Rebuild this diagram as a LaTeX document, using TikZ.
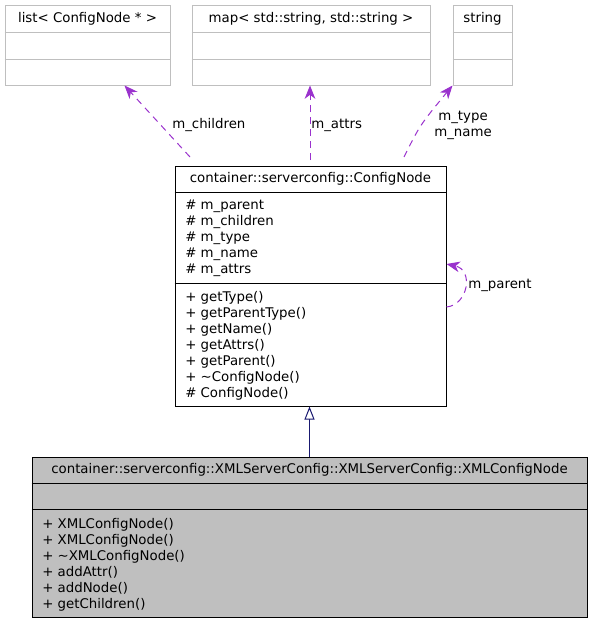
\documentclass[tikz,border=0pt]{standalone}
\usepackage{fontspec}
\setmainfont{DejaVu Sans}
\usetikzlibrary{arrows.meta,positioning,calc}
\definecolor{edgepurple}{HTML}{9A32CD}
\definecolor{edgenavy}{HTML}{191970}
\definecolor{boxgray}{HTML}{BFBFBF}

\begin{document}
\begin{tikzpicture}[x=0.75pt,y=-0.75pt]

  \tikzstyle{ext} = [draw=boxgray, rectangle, inner sep=0pt, line width=0.75pt, minimum height=60pt]
  \tikzstyle{cls} = [draw=black, rectangle, inner sep=0pt, line width=0.75pt]
  \tikzstyle{title} = [font=\fontsize{10}{12}\selectfont, inner sep=0pt]
  \tikzstyle{members} = [font=\fontsize{10}{12}\selectfont, align=left, anchor=north west, inner sep=0pt]
  \tikzstyle{use} = [edgepurple, line width=0.75pt, dash pattern=on 5pt off 4pt, -{Stealth[length=10pt,width=8pt,inset=3pt]}]
  \tikzstyle{usetext} = [font=\fontsize{10}{12}\selectfont, inner sep=0pt]
  \tikzstyle{inherit} = [edgenavy, line width=0.75pt, -{Triangle[open,length=9.75pt,width=7.5pt,fill=white]}]

  \useasboundingbox (0,0) rectangle (591,621);

  % used types, top row
  \node[ext, minimum width=123.75pt] (list) at (87.5,45) {};
  \node[ext, minimum width=178.5pt] (map) at (311,45) {};
  \node[ext, minimum width=44.25pt] (str) at (482.5,45) {};
  \node[title] (listname) at (list.north |- 0,19) {list< ConfigNode * >};
  \node[title] (mapname) at (map.north |- 0,19) {map< std::string, std::string >};
  \node[title] (strname) at (str.north |- 0,19) {string};
  \draw[boxgray, line width=0.75pt] (list.west |- 0,32) -- (list.east |- 0,32) (list.west |- 0,59) -- (list.east |- 0,59);
  \draw[boxgray, line width=0.75pt] (map.west |- 0,32) -- (map.east |- 0,32) (map.west |- 0,59) -- (map.east |- 0,59);
  \draw[boxgray, line width=0.75pt] (str.west |- 0,32) -- (str.east |- 0,32) (str.west |- 0,59) -- (str.east |- 0,59);

  % base class
  \node[cls, minimum width=203.25pt, minimum height=180pt] (cfg) at (310.5,286) {};
  \node[title] (cfgname) at (cfg.north |- 0,179) {container::serverconfig::ConfigNode};
  \draw[line width=0.75pt] (cfg.west |- 0,192) -- (cfg.east |- 0,192) (cfg.west |- 0,283) -- (cfg.east |- 0,283);
  \node[members] (cfgattr) at (185,199.5) {\# m\_parent\\\# m\_children\\\# m\_type\\\# m\_name\\\# m\_attrs};
  \node[members] (cfgops) at (185,291) {+ getType()\\+ getParentType()\\+ getName()\\+ getAttrs()\\+ getParent()\\+ \textasciitilde ConfigNode()\\\# ConfigNode()};

  % derived class
  \node[cls, fill=boxgray, minimum width=416.25pt, minimum height=120pt] (xml) at (309.5,537) {};
  \node[title] (xmlname) at (xml.north |- 0,470) {container::serverconfig::XMLServerConfig::XMLServerConfig::XMLConfigNode};
  \draw[line width=0.75pt] (xml.west |- 0,483) -- (xml.east |- 0,483) (xml.west |- 0,509) -- (xml.east |- 0,509);
  \node[members] (xmlops) at (42,518) {+ XMLConfigNode()\\+ XMLConfigNode()\\+ \textasciitilde XMLConfigNode()\\+ addAttr()\\+ addNode()\\+ getChildren()};

  % usage edges
  \coordinate (chtail) at (190,157);
  \coordinate (chhead) at ($(list.south west)+(120,0)$);
  \coordinate (attail) at (310,160);
  \coordinate (tytail) at (404,157);
  \draw[use] (chtail) -- (chhead);
  \draw[use] (attail) -- (attail |- map.south);
  \draw[use] (tytail) .. controls (420,125) .. (str.south west);
  \draw[use] (cfg.east |- 0,307) .. controls (468,305) and (474,270) .. (cfg.east |- 0,264);
  \node[usetext, anchor=west] (chlabel) at (172,125) {m\_children};
  \node[usetext, anchor=west] (atlabel) at (311,125) {m\_attrs};
  \node[usetext, align=center] (tylabel) at (463,125) {m\_type\\m\_name};
  \node[usetext, anchor=west] (palabel) at (468,285) {m\_parent};

  % inheritance
  \draw[inherit] (xml.north) -- (xml.north |- cfg.south);

\end{tikzpicture}
\end{document}
